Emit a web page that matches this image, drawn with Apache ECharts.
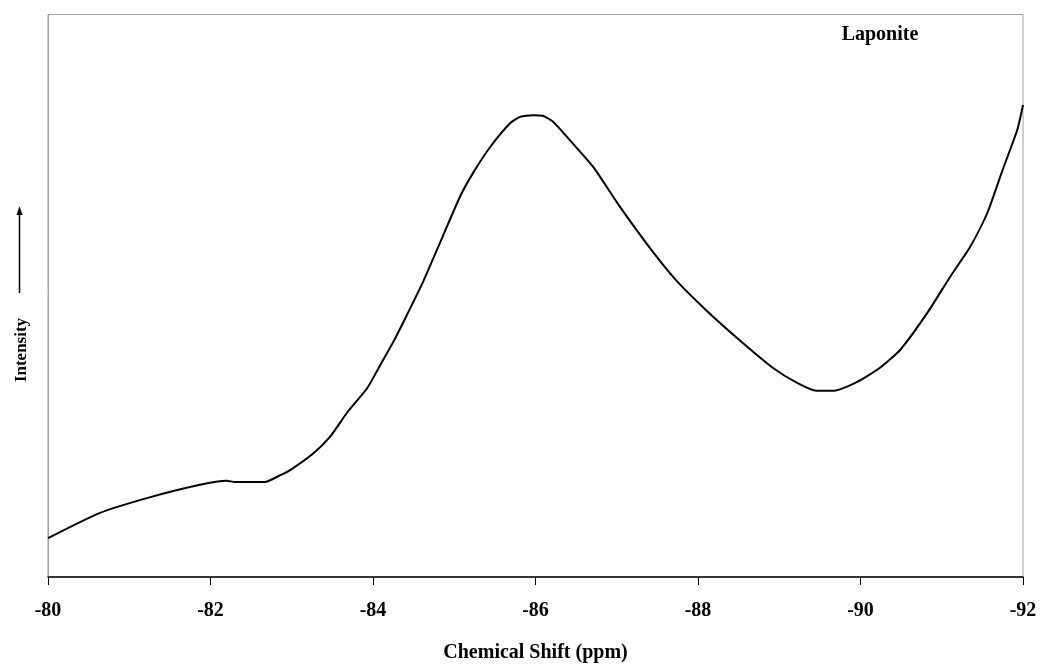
<!DOCTYPE html>
<html>
<head>
<meta charset="utf-8">
<script src="https://cdn.jsdelivr.net/npm/echarts@6/dist/echarts.min.js"></script>
<style>
  html, body { margin: 0; padding: 0; background: #fff; }
  #chart { width: 1041px; height: 668px; }
</style>
</head>
<body>
<div id="chart"></div>
<script>
// 29Si NMR spectrum of Laponite: chemical shift (ppm) vs. relative intensity
const shiftPpm = [
  -80.00, -80.64, -81.26, -81.87, -82.20, -82.30, -82.67, -82.86, -82.98, -83.26,
  -83.47, -83.68, -83.93, -84.09, -84.25, -84.37, -84.52, -84.62, -84.86, -85.07,
  -85.23, -85.44, -85.69, -85.81, -85.97, -86.09, -86.22, -86.42, -86.71, -87.04,
  -87.45, -87.74, -88.11, -88.52, -88.92, -89.22, -89.46, -89.66, -89.96, -90.24,
  -90.49, -90.82, -91.10, -91.35, -91.56, -91.75, -91.93, -92.00
];
const intensity = [
   6.9, 11.4, 14.2, 16.4, 17.1, 16.9, 16.9, 18.1, 19.0, 21.9,
  24.9, 29.2, 33.6, 37.7, 41.8, 45.2, 49.6, 52.6, 60.6, 67.6,
  71.8, 76.4, 80.7, 81.8, 82.1, 82.0, 80.9, 77.7, 72.9, 65.8,
  57.7, 52.6, 47.3, 42.0, 37.2, 34.5, 33.1, 33.1, 34.7, 37.2,
  40.4, 46.9, 53.3, 58.7, 64.7, 72.4, 79.5, 83.9
];
const xTicks = { min: -92, max: -80, step: 2 };
const sampleLabel = 'Laponite';
const xTitle = 'Chemical Shift (ppm)';
const yTitle = 'Intensity';

const serif = '"Liberation Serif", "Times New Roman", serif';
const points = shiftPpm.map((x, i) => [x, intensity[i]]);

const chart = echarts.init(document.getElementById('chart'), null, { renderer: 'canvas' });
chart.setOption({
  animation: false,
  backgroundColor: '#ffffff',
  grid: {
    left: 48, right: 18, top: 14.5, bottom: 91,
    show: true, borderColor: '#a0a0a0', borderWidth: 1, backgroundColor: 'transparent'
  },
  xAxis: {
    type: 'value',
    inverse: true,
    min: xTicks.min, max: xTicks.max, interval: xTicks.step,
    axisLine: { show: true, lineStyle: { color: '#000', width: 1.5 } },
    axisTick: { show: true, inside: false, length: 8, lineStyle: { color: '#000', width: 1 } },
    axisLabel: { color: '#000', fontFamily: serif, fontWeight: 'bold', fontSize: 20, margin: 24 },
    splitLine: { show: false },
    name: xTitle,
    nameLocation: 'middle',
    nameGap: 66,
    nameTextStyle: { color: '#000', fontFamily: serif, fontWeight: 'bold', fontSize: 20 }
  },
  yAxis: {
    type: 'value',
    min: 0, max: 100,
    axisLine: { show: true, lineStyle: { color: '#a0a0a0', width: 1 } },
    axisTick: { show: false },
    axisLabel: { show: false },
    splitLine: { show: false }
  },
  series: [{
    type: 'line',
    data: points,
    smooth: 0.2,
    symbol: 'none',
    lineStyle: { color: '#000', width: 2 }
  }],
  graphic: [
    {
      type: 'text',
      x: 880, y: 35,
      style: {
        text: sampleLabel, fill: '#000', font: 'bold 20px ' + serif,
        align: 'center', verticalAlign: 'middle'
      }
    },
    {
      type: 'text',
      x: 22, y: 350,
      rotation: Math.PI / 2,
      style: {
        text: yTitle, fill: '#000', font: 'bold 17px ' + serif,
        align: 'center', verticalAlign: 'middle'
      }
    },
    {
      type: 'line',
      shape: { x1: 19.5, y1: 293, x2: 19.5, y2: 212 },
      style: { stroke: '#000', lineWidth: 1.5 }
    },
    {
      type: 'polygon',
      shape: { points: [[19.5, 206], [16.5, 215], [22.5, 215]] },
      style: { fill: '#000' }
    }
  ]
});
</script>
</body>
</html>
